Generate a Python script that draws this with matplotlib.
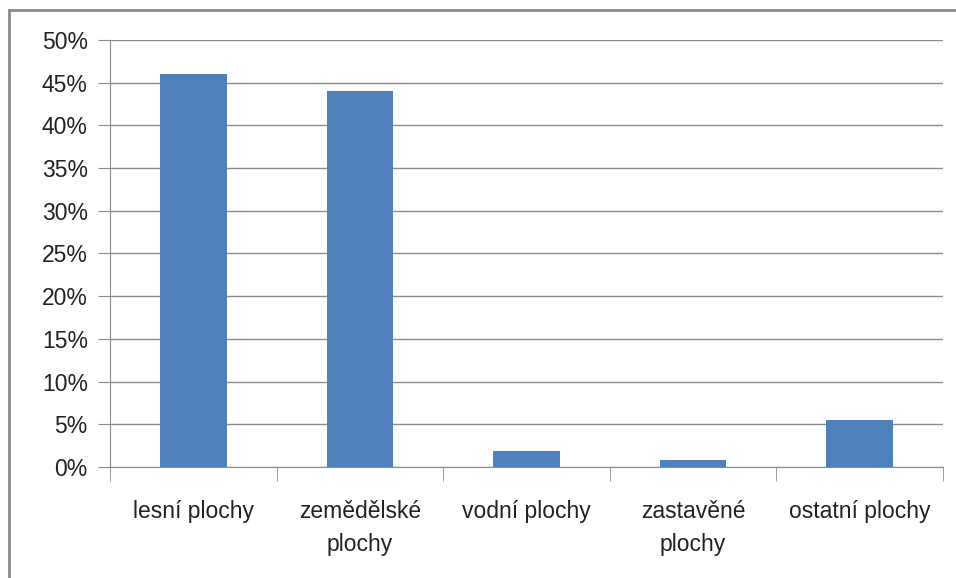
import matplotlib.pyplot as plt
import numpy as np
from matplotlib.patches import Rectangle

# land use categories and shares (%)
categories = ['lesní plochy', 'zemědělské\nplochy', 'vodní plochy', 'zastavěné\nplochy', 'ostatní plochy']
shares = [46.0, 44.0, 1.9, 0.85, 5.5]
yticks = [0, 5, 10, 15, 20, 25, 30, 35, 40, 45, 50]

plt.rcParams['font.family'] = ['Liberation Sans', 'DejaVu Sans']

fig = plt.figure(figsize=(9.56, 5.78), dpi=100)
ax = fig.add_axes([110/956, 1 - 467/578, 833/956, 427/578])

# outer chart frame (partly cut off like the reference)
fig.patches.append(Rectangle((9/956, -0.1), 1.2, 1 - 10/578 + 0.1, transform=fig.transFigure,
                             fill=False, edgecolor='#8c8c8c', linewidth=2))

x = np.arange(len(categories))
ax.bar(x, shares, width=0.4, color='#4F81BD', zorder=3)

ax.set_xlim(-0.5, len(categories) - 0.5)
ax.set_ylim(0, 50)
ax.set_yticks(yticks)
ax.set_yticklabels([f'{t}%' for t in yticks], fontsize=16.5, color='#222222')
ax.yaxis.grid(True, color='#8c8c8c', linewidth=1, zorder=0)

# category labels at bar centres, ticks between categories
ax.set_xticks(x)
ax.set_xticklabels(categories, fontsize=16.5, color='#222222', linespacing=1.55)
ax.tick_params(axis='x', length=0, pad=24)
ax.set_xticks(np.arange(-0.5, len(categories)), minor=True)
ax.tick_params(axis='x', which='minor', length=10, color='#8c8c8c')
ax.tick_params(axis='y', length=9, color='#8c8c8c', pad=7)

for s in ['top', 'right']:
    ax.spines[s].set_visible(False)
for s in ['left', 'bottom']:
    ax.spines[s].set_color('#8c8c8c')

fig.savefig('out.png', dpi=100)
